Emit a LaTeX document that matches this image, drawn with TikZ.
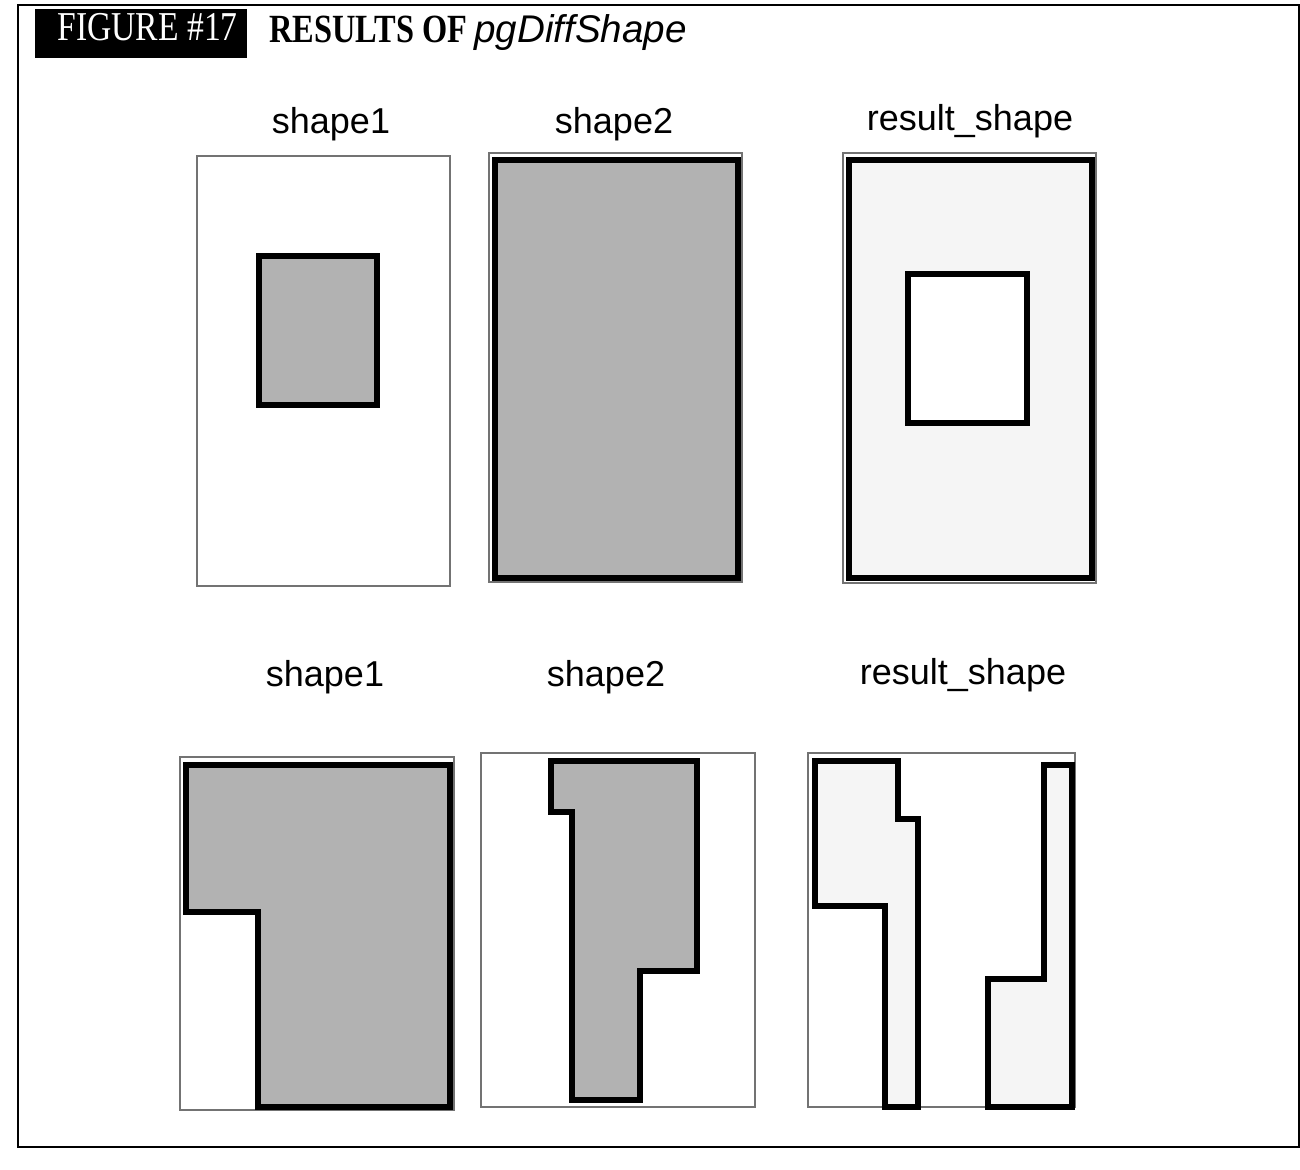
\documentclass[tikz,border=0pt]{standalone}
\usepackage{fontspec}
\setmainfont{Liberation Serif}
\setsansfont{Liberation Sans}
\usepackage{graphicx}

\begin{document}
\begin{tikzpicture}[x=0.5pt,y=-0.5pt,
		panel/.style={draw=black!55,line width=0.7pt},
		operand/.style={draw=black,line width=3.3pt,fill=black!30},
		result/.style={draw=black,line width=3.3pt,fill=black!4},
		hole/.style={draw=black,line width=3.3pt,fill=white},
		caption/.style={font=\sffamily\fontsize{18}{18}\selectfont,anchor=base,inner sep=0pt}]
		
		\useasboundingbox (0,0) rectangle (1300,1170);
		
		% Outer frame and title
		\draw[line width=1pt] (18,5) rectangle (1299,1147);
		\fill (35,9) rectangle (247,58);
		\node[anchor=base west,inner sep=0pt,text=white] (figno) at (57,41)
			{\scalebox{0.82}[1]{\fontsize{20.5}{20.5}\selectfont FIGURE \#17}};
		\node[anchor=base west,inner sep=0pt] (title) at (269,43)
			{\scalebox{0.81}[1]{\fontsize{20}{20}\selectfont\bfseries RESULTS OF}};
		\node[anchor=base west,inner sep=0pt] (func) at (474,43)
			{\fontsize{19.3}{19.3}\selectfont\sffamily\itshape pgDiffShape};
		
		% Top row (A)
		\node[caption] (capA1) at (331,134) {shape1};
		\node[caption] (capA2) at (614,134) {shape2};
		\node[caption] (capA3) at (970,131) {result\_shape};
		
		\draw[panel] (197,156) rectangle (450,586);
		\draw[operand] (259,256) rectangle (377,405); % small box
		
		\draw[panel] (489,153) rectangle (742,582);
		\draw[operand] (495,160) rectangle (738,578); % large box
		
		\draw[panel] (843,153) rectangle (1096,583);
		\draw[result] (849,160) rectangle (1092,578);
		\draw[hole] (908,274) rectangle (1027,423); % cut out
		
		% Bottom row (B)
		\node[caption] (capB1) at (325,686) {shape1};
		\node[caption] (capB2) at (606,686) {shape2};
		\node[caption] (capB3) at (963,684) {result\_shape};
		
		\draw[panel] (180,757) rectangle (454,1110);
		\draw[operand] (186,765) -- (450,765) -- (450,1107) -- (258,1107)
			-- (258,912) -- (186,912) -- cycle;
		
		\draw[panel] (481,753) rectangle (755,1107);
		\draw[operand] (551,761) -- (697,761) -- (697,971) -- (640,971)
			-- (640,1100) -- (572,1100) -- (572,812) -- (551,812) -- cycle;
		
		\draw[panel] (808,753) rectangle (1075,1107);
		\draw[result] (815,761) -- (898,761) -- (898,819) -- (918,819)
			-- (918,1107) -- (885,1107) -- (885,906) -- (815,906) -- cycle; % left piece
		\draw[result] (1044,765) -- (1072,765) -- (1072,1107) -- (988,1107)
			-- (988,979) -- (1044,979) -- cycle; % right piece
	\end{tikzpicture}
\end{document}
